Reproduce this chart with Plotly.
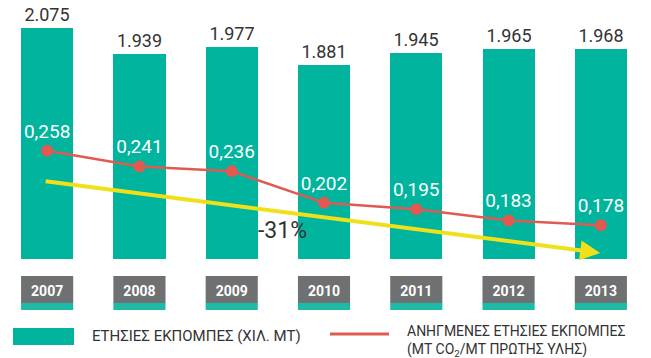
import plotly.graph_objects as go

# Annual emissions (thousand MT) and specific emissions (MT CO2 / MT raw material)
years = ["2007", "2008", "2009", "2010", "2011", "2012", "2013"]
annual_emissions = [2075, 1939, 1977, 1881, 1945, 1965, 1968]
specific_emissions = [0.258, 0.241, 0.236, 0.202, 0.195, 0.183, 0.178]
reduction_label = "-31%"
legend_bar = "ΕΤΗΣΙΕΣ ΕΚΠΟΜΠΕΣ (ΧΙΛ. ΜΤ)"
legend_line = ["ΑΝΗΓΜΕΝΕΣ ΕΤΗΣΙΕΣ ΕΚΠΟΜΠΕΣ", "(ΜΤ CO<sub>2</sub>/ΜΤ ΠΡΩΤΗΣ ΥΛΗΣ)"]

TEAL = "#00b49e"
TEAL_LIGHT = "#1dbaa6"
RED = "#e05a52"
YELLOW = "#f0e01a"
GREY_BOX = "#6f7072"
TEXT = "#333333"
FONT = "Roboto"

W, H = 651, 358
M_L, M_R, M_T, M_B = 1, 4, 10, 99
BAR_W = 0.565

idx = list(range(len(years)))

fig = go.Figure()

fig.add_trace(go.Bar(
    x=idx, y=annual_emissions, width=BAR_W,
    marker=dict(color=TEAL, line=dict(width=0)),
    text=annual_emissions, texttemplate="%{y:,d}", textposition="outside",
    textfont=dict(family=FONT, size=18, color=TEXT),
    cliponaxis=False, showlegend=False, hoverinfo="skip",
))

fig.add_trace(go.Scatter(
    x=idx, y=specific_emissions, yaxis="y2", mode="lines+markers+text",
    line=dict(color=RED, width=2.5),
    marker=dict(color=RED, size=12),
    text=[f"{v:.3f}".replace(".", ",") for v in specific_emissions],
    textposition="top center",
    textfont=dict(family=FONT, size=19, color="white"),
    cliponaxis=False, showlegend=False, hoverinfo="skip",
))

shapes = []
annotations = []

plot_h = H - M_T - M_B
plot_w = W - M_L - M_R
def py(px):
    """pixel row -> paper y"""
    return (H - M_B - px) / plot_h

def pxx(px):
    """pixel column -> paper x"""
    return (px - M_L) / plot_w

# year boxes under each bar (drawn beneath the tick labels)
for i in idx:
    shapes.append(dict(type="rect", xref="x", yref="paper", layer="below",
                       x0=i - BAR_W / 2, x1=i + BAR_W / 2, y0=py(303), y1=py(276),
                       fillcolor=GREY_BOX, line=dict(width=0)))
    shapes.append(dict(type="rect", xref="x", yref="paper", layer="below",
                       x0=i - BAR_W / 2, x1=i + BAR_W / 2, y0=py(310), y1=py(303),
                       fillcolor=TEAL_LIGHT, line=dict(width=0)))

# trend arrow
annotations.append(dict(
    x=5.992, y=895.5, xref="x", yref="y", axref="pixel", ayref="pixel",
    ax=-556, ay=-72, text="", showarrow=True,
    arrowhead=2, arrowsize=1.0, arrowwidth=4, arrowcolor=YELLOW, standoff=0,
))
annotations.append(dict(
    x=2.546, y=1016, xref="x", yref="y", text=reduction_label, showarrow=False,
    font=dict(family=FONT, size=23, color=TEXT),
))

# legend
shapes.append(dict(type="rect", xref="paper", yref="paper",
                   x0=pxx(13), x1=pxx(74), y0=py(345), y1=py(328),
                   fillcolor=TEAL, line=dict(width=0)))
shapes.append(dict(type="line", xref="paper", yref="paper",
                   x0=pxx(330), x1=pxx(389), y0=py(334), y1=py(334),
                   line=dict(color=RED, width=3)))
annotations.append(dict(
    x=pxx(90), y=py(336), xref="paper", yref="paper",
    xanchor="left", yanchor="middle", text=legend_bar, showarrow=False,
    font=dict(family=FONT, size=15, color=TEXT),
))
annotations.append(dict(
    x=pxx(405), y=py(341), xref="paper", yref="paper",
    xanchor="left", yanchor="middle", align="left",
    text="<br>".join(legend_line), showarrow=False,
    font=dict(family=FONT, size=14, color=TEXT),
))

fig.update_layout(
    width=W, height=H,
    margin=dict(l=M_L, r=M_R, t=M_T, b=M_B, pad=0),
    paper_bgcolor="white", plot_bgcolor="white",
    separators=",.",
    xaxis=dict(range=[-0.5, 6.5], tickmode="array", tickvals=idx, ticktext=years,
               showgrid=False, zeroline=False, showline=False, ticks="",
               tickfont=dict(family=FONT, size=14, color="white", weight="bold"),
               ticklabelstandoff=22),
    yaxis=dict(range=[864, 2170], visible=False, showgrid=False),
    yaxis2=dict(range=[0.1416, 0.4094], overlaying="y", visible=False, showgrid=False),
    shapes=shapes, annotations=annotations,
    bargap=0, showlegend=False,
)

fig.write_html("out.html")
